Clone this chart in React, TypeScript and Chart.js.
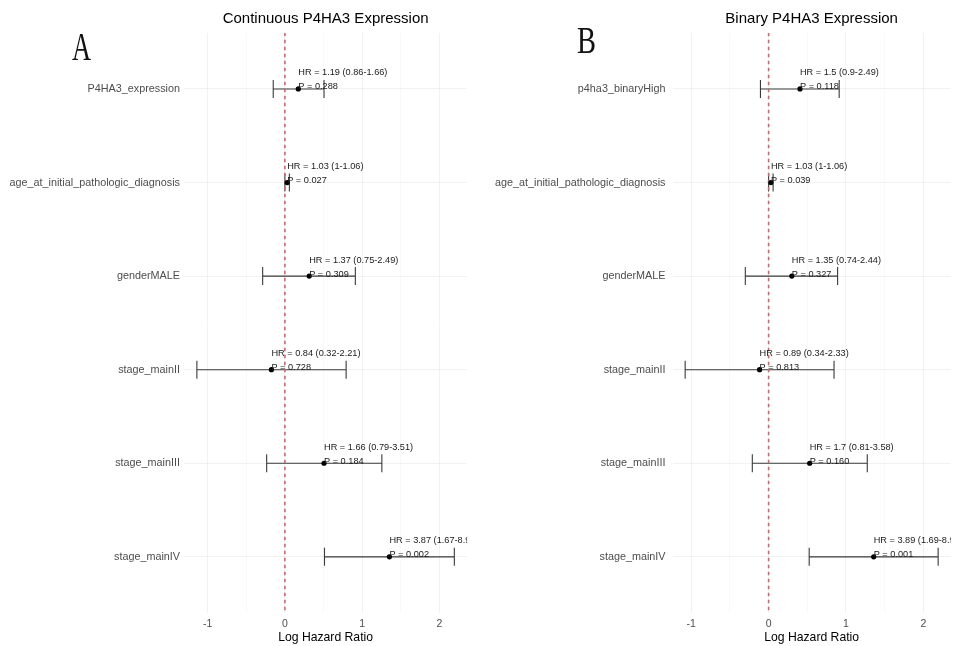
import React, { useEffect, useRef } from "react";
import { Chart, registerables } from "chart.js";

Chart.register(...registerables);

// Cox model terms and estimates, continuous P4HA3 model
const continuousTerms = [
  "P4HA3_expression",
  "age_at_initial_pathologic_diagnosis",
  "genderMALE",
  "stage_mainII",
  "stage_mainIII",
  "stage_mainIV",
];
const continuousHR = [1.19, 1.03, 1.37, 0.84, 1.66, 3.87];
const continuousLower = [0.86, 1, 0.75, 0.32, 0.79, 1.67];
const continuousUpper = [1.66, 1.06, 2.49, 2.21, 3.51, 8.97];
const continuousP = [0.288, 0.027, 0.309, 0.728, 0.184, 0.002];

// Cox model terms and estimates, binary P4HA3 model
const binaryTerms = [
  "p4ha3_binaryHigh",
  "age_at_initial_pathologic_diagnosis",
  "genderMALE",
  "stage_mainII",
  "stage_mainIII",
  "stage_mainIV",
];
const binaryHR = [1.5, 1.03, 1.35, 0.89, 1.7, 3.89];
const binaryLower = [0.9, 1, 0.74, 0.34, 0.81, 1.69];
const binaryUpper = [2.49, 1.06, 2.44, 2.33, 3.58, 8.95];
const binaryP = [0.118, 0.039, 0.327, 0.813, 0.16, 0.001];

// x axis breaks (log hazard ratio); integers are labelled, halves are minor grid
const xBreaks = [-1, -0.5, 0, 0.5, 1, 1.5, 2];

const SANS = "'Liberation Sans', Arial, sans-serif";

type Panel = {
  title: string;
  letter: string;
  letterX: number;
  letterBase: number;
  letterSize: number;
  letterScale: number;
  terms: string[];
  hr: number[];
  lower: number[];
  upper: number[];
  p: number[];
  left: number;
  width: number;
  axisWidth: number;
  labelPad: number;
  rightPad: number;
};

function makeChart(canvas: HTMLCanvasElement, panel: Panel) {
  const { terms, hr, lower, upper, p } = panel;
  const logLo = Math.min(...lower.map(Math.log));
  const logHi = Math.max(...upper.map(Math.log));
  const expand = (logHi - logLo) * 0.05;
  const xMin = logLo - expand;
  const xMax = logHi + expand;
  const yMin = -0.6;
  const yMax = terms.length - 1 + 0.6;

  const forestPlugin = {
    id: "forest",
    beforeDatasetsDraw(chart: any) {
      const { ctx, scales } = chart;
      const x = scales.x;
      const y = scales.y;
      ctx.save();
      ctx.strokeStyle = "#3a3a3a";
      ctx.lineWidth = 1.1;
      lower.forEach((lo, i) => {
        const x0 = x.getPixelForValue(Math.log(lo));
        const x1 = x.getPixelForValue(Math.log(upper[i]));
        const yy = y.getPixelForValue(i);
        ctx.beginPath();
        ctx.moveTo(x0, yy);
        ctx.lineTo(x1, yy);
        ctx.moveTo(x0, yy - 9);
        ctx.lineTo(x0, yy + 9);
        ctx.moveTo(x1, yy - 9);
        ctx.lineTo(x1, yy + 9);
        ctx.stroke();
      });
      ctx.restore();
    },
    afterDatasetsDraw(chart: any) {
      const { ctx, scales, chartArea } = chart;
      const x = scales.x;
      const y = scales.y;
      ctx.save();
      ctx.beginPath();
      ctx.rect(chartArea.left, chartArea.top - 30, chartArea.right - chartArea.left, chartArea.bottom - chartArea.top + 30);
      ctx.clip();
      ctx.font = `9.2px ${SANS}`;
      ctx.fillStyle = "#1a1a1a";
      ctx.textAlign = "left";
      ctx.textBaseline = "alphabetic";
      hr.forEach((h, i) => {
        const px = x.getPixelForValue(Math.log(h));
        const py = y.getPixelForValue(i);
        ctx.fillText(`HR = ${h} (${lower[i]}-${upper[i]})`, px, py - 13.5);
        ctx.fillText(`P = ${p[i].toFixed(3)}`, px, py + 0.5);
      });
      ctx.restore();
    },
    afterDraw(chart: any) {
      const { ctx, chartArea } = chart;
      ctx.save();
      ctx.fillStyle = "#000";
      ctx.font = `15px ${SANS}`;
      ctx.textAlign = "center";
      ctx.textBaseline = "middle";
      ctx.fillText(panel.title, (chartArea.left + chartArea.right) / 2, 19);
      ctx.translate(panel.letterX, panel.letterBase);
      ctx.scale(panel.letterScale, 1);
      ctx.font = `${panel.letterSize}px 'Liberation Serif', 'Times New Roman', serif`;
      ctx.textAlign = "left";
      ctx.textBaseline = "alphabetic";
      ctx.fillStyle = "#111";
      ctx.fillText(panel.letter, 0, 0);
      ctx.restore();
    },
  };

  return new Chart(canvas, {
    type: "scatter",
    data: {
      datasets: [
        {
          data: hr.map((h, i) => ({ x: Math.log(h), y: i })),
          pointRadius: 2.6,
          pointBackgroundColor: "#000",
          pointBorderWidth: 0,
          order: 0,
        },
        {
          data: [
            { x: 0, y: yMin },
            { x: 0, y: yMax },
          ],
          showLine: true,
          borderColor: "#d06470",
          borderWidth: 1.6,
          borderDash: [3.5, 3.5],
          pointRadius: 0,
          order: 1,
        },
      ],
    },
    options: {
      responsive: false,
      animation: false,
      events: [],
      layout: { padding: { top: 32.8, right: panel.rightPad, left: 0, bottom: 0 } },
      plugins: {
        legend: { display: false },
        tooltip: { enabled: false },
        title: { display: false },
      },
      scales: {
        x: {
          type: "linear",
          min: xMin,
          max: xMax,
          afterBuildTicks: (s: any) => {
            s.ticks = xBreaks.map((v) => ({ value: v }));
          },
          afterFit: (s: any) => {
            s.height = 33;
          },
          border: { display: false },
          grid: {
            drawTicks: false,
            color: (c: any) =>
              Number.isInteger(c.tick?.value) ? "rgba(0,0,0,0.05)" : "rgba(0,0,0,0.025)",
          },
          ticks: {
            autoSkip: false,
            maxRotation: 0,
            padding: 5,
            color: "#4d4d4d",
            font: { size: 10.5, family: SANS },
            callback: (v: any) => (Number.isInteger(v) ? String(v) : ""),
          },
          title: {
            display: true,
            text: "Log Hazard Ratio",
            color: "#000",
            font: { size: 12.2, family: SANS },
            padding: { top: 0, bottom: 1.5 },
          },
        },
        y: {
          type: "linear",
          reverse: true,
          min: yMin,
          max: yMax,
          afterBuildTicks: (s: any) => {
            s.ticks = terms.map((_, i) => ({ value: i }));
          },
          afterFit: (s: any) => {
            s.width = panel.axisWidth;
          },
          border: { display: false },
          grid: { drawTicks: false, color: "rgba(0,0,0,0.05)" },
          ticks: {
            autoSkip: false,
            padding: panel.labelPad,
            color: "#4d4d4d",
            font: { size: 10.8, family: SANS },
            callback: (v: any) => terms[v],
          },
        },
      },
    },
    plugins: [forestPlugin],
  } as any);
}

const panels: Panel[] = [
  {
    title: "Continuous P4HA3 Expression",
    letter: "A",
    letterX: 72,
    letterBase: 60,
    letterSize: 40,
    letterScale: 0.66,
    terms: continuousTerms,
    hr: continuousHR,
    lower: continuousLower,
    upper: continuousUpper,
    p: continuousP,
    left: 0,
    width: 480,
    axisWidth: 184,
    labelPad: 4,
    rightPad: 12.8,
  },
  {
    title: "Binary P4HA3 Expression",
    letter: "B",
    letterX: 97,
    letterBase: 52.5,
    letterSize: 38,
    letterScale: 0.75,
    terms: binaryTerms,
    hr: binaryHR,
    lower: binaryLower,
    upper: binaryUpper,
    p: binaryP,
    left: 480,
    width: 477,
    axisWidth: 192.5,
    labelPad: 7,
    rightPad: 6.2,
  },
];

function ForestPanel({ panel }: { panel: Panel }) {
  const ref = useRef<HTMLCanvasElement>(null);
  useEffect(() => {
    if (!ref.current) return;
    const chart = makeChart(ref.current, panel);
    return () => chart.destroy();
  }, [panel]);
  return (
    <canvas
      ref={ref}
      width={panel.width}
      height={646}
      style={{ position: "absolute", left: panel.left, top: 0, width: panel.width, height: 646 }}
    />
  );
}

export default function App() {
  return (
    <div
      style={{
        position: "fixed",
        left: 0,
        top: 0,
        width: 957,
        height: 646,
        background: "#fff",
        overflow: "hidden",
      }}
    >
      {panels.map((p) => (
        <ForestPanel key={p.letter} panel={p} />
      ))}
    </div>
  );
}
